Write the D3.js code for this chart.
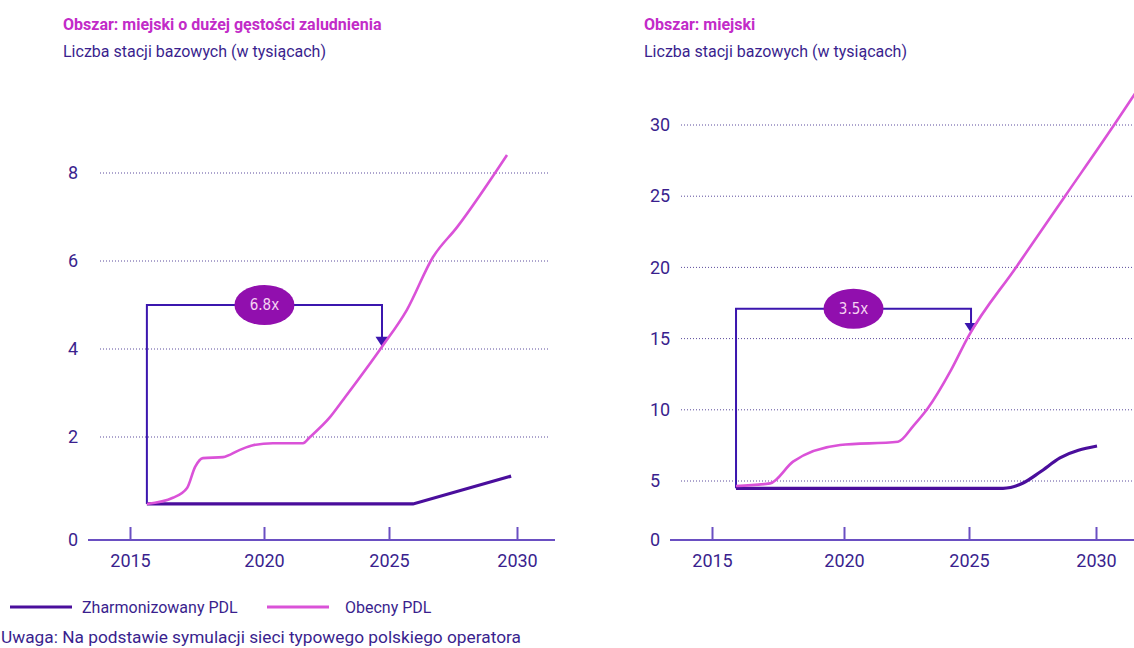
<!DOCTYPE html>
<html lang="pl">
<head>
<meta charset="UTF-8">
<title>Liczba stacji bazowych</title>
<style>
  body { margin: 0; background: #fff; }
  svg { display: block; font-family: Roboto, "Noto Sans", sans-serif; }
</style>
</head>
<body>
<svg id="chart" width="1134" height="648"></svg>
<script src="https://d3js.org/d3.v7.min.js"></script>
<script>

// --- data ---
const xTicks = [2015, 2020, 2025, 2030];
const leftYTicks = [0, 2, 4, 6, 8];
const rightYTicks = [0, 5, 10, 15, 20, 25, 30];

const panelTitles = ["Obszar: miejski o dużej gęstości zaludnienia", "Obszar: miejski"];
const panelSubtitle = "Liczba stacji bazowych (w tysiącach)";

// [year, thousands of base stations]
const leftHarmonized = [[2015.63, 0.70], [2025.94, 0.70], [2029.77, 1.24]];
const leftCurrent = [
  [2015.63, 0.70], [2016.60, 0.82], [2017.13, 1.01], [2017.43, 1.42], [2017.72, 1.59],
  [2018.47, 1.61], [2019.10, 1.75], [2019.59, 1.84], [2020.36, 1.88], [2021.56, 1.88],
  [2021.84, 2.0], [2022.64, 2.45], [2023.16, 2.84], [2024.72, 4.05], [2025.70, 4.89],
  [2026.72, 6.09], [2027.66, 6.77], [2029.61, 8.41]
];
const rightHarmonized = [
  [2015.91, 4.38], [2026.34, 4.38], [2027.13, 4.83], [2027.80, 5.63], [2028.58, 6.62], [2030.04, 7.46]
];
const rightCurrent = [
  [2015.91, 4.58], [2017.20, 4.80], [2018.07, 6.36], [2019.85, 7.53], [2022.16, 7.76],
  [2022.80, 8.93], [2023.36, 10.13], [2024.28, 12.79], [2024.96, 15.11], [2026.85, 20.0],
  [2028.78, 25.0], [2030.71, 30.0], [2031.46, 32.0], [2031.8, 32.9]
];

// growth brackets: label, start year, end year, bracket level, arrow target value
const multipleLabels = ["6.8x", "3.5x"];
const multipleFrom = [2015.63, 2015.91];
const multipleTo = [2024.72, 2025.08];
const multipleLevel = [5.0, 17.1];
const multipleTarget = [4.05, 15.4];

const legendLabels = ["Zharmonizowany PDL", "Obecny PDL"];
const noteText = "Uwaga: Na podstawie symulacji sieci typowego polskiego operatora";

// --- styles ---
const cHarm = "#4a0e9c";
const cCurr = "#da52d8";
const cText = "#3a1f8e";
const cTitle = "#c22bc8";
const cAxis = "#6a4fc2";
const cBracket = "#3b16ae";
const cBadge = "#910fae";

const svg = d3.select("#chart");

const panels = [
  {
    title: panelTitles[0], titleX: 63, labelX: 68, gridX: [100, 550], axisX: [88, 555],
    x: d3.scaleLinear().domain(xTicks).range([130, 264, 389, 517]),
    y: d3.scaleLinear().domain([0, 2, 8]).range([540, 437, 173]),
    yTicks: leftYTicks, harm: leftHarmonized, curr: leftCurrent, harmCurve: d3.curveLinear, i: 0
  },
  {
    title: panelTitles[1], titleX: 644, labelX: 650, gridX: [681, 1140], axisX: [670, 1140],
    x: d3.scaleLinear().domain(xTicks).range([712, 844, 969, 1096]),
    y: d3.scaleLinear().domain([0, 5, 30]).range([540, 481, 125]),
    yTicks: rightYTicks, harm: rightHarmonized, curr: rightCurrent, harmCurve: d3.curveMonotoneX, i: 1
  }
];

panels.forEach(p => {
  const g = svg.append("g");

  g.append("text")
    .attr("x", p.titleX).attr("y", 30)
    .attr("fill", cTitle).attr("font-size", 16).attr("font-weight", 700)
    .text(p.title);
  g.append("text")
    .attr("x", p.titleX).attr("y", 57)
    .attr("fill", cText).attr("font-size", 16)
    .text(panelSubtitle);

  // dotted gridlines (not at 0)
  g.selectAll(".grid")
    .data(p.yTicks.filter(d => d > 0))
    .enter().append("line")
    .attr("x1", p.gridX[0]).attr("x2", p.gridX[1])
    .attr("y1", d => p.y(d)).attr("y2", d => p.y(d))
    .attr("stroke", "#5b4a9c").attr("stroke-width", 1)
    .attr("stroke-dasharray", "1,2");

  // y labels
  const ya = g.append("g")
    .attr("transform", "translate(" + p.labelX + ",0)")
    .call(d3.axisLeft(p.y).tickValues(p.yTicks).tickSize(0).tickPadding(0));
  ya.select(".domain").remove();
  ya.selectAll("text")
    .attr("x", 0).attr("text-anchor", "start")
    .attr("fill", cText).attr("font-size", 18).attr("font-family", "Roboto, sans-serif");

  // x axis
  const xa = g.append("g")
    .attr("transform", "translate(0," + p.y(0) + ")")
    .call(d3.axisBottom(p.x).tickValues(xTicks).tickFormat(d3.format("d"))
      .tickSizeInner(-13).tickSizeOuter(0).tickPadding(14));
  xa.select(".domain").remove();
  xa.selectAll(".tick line").attr("stroke", cAxis).attr("stroke-width", 2);
  xa.selectAll("text")
    .attr("fill", cText).attr("font-size", 18).attr("font-family", "Roboto, sans-serif");
  g.append("line")
    .attr("x1", p.axisX[0]).attr("x2", p.axisX[1])
    .attr("y1", p.y(0)).attr("y2", p.y(0))
    .attr("stroke", cAxis).attr("stroke-width", 2);

  // bracket annotation
  const bx0 = p.x(multipleFrom[p.i]), bx1 = p.x(multipleTo[p.i]);
  const by = p.y(multipleLevel[p.i]), ty = p.y(multipleTarget[p.i]);
  const base = p.y(p.harm[0][1]);
  g.append("path")
    .attr("d", "M" + bx0 + "," + base + "V" + by + "H" + bx1 + "V" + (ty - 9))
    .attr("fill", "none").attr("stroke", cBracket).attr("stroke-width", 2);
  g.append("path")
    .attr("d", "M" + (bx1 - 6.5) + "," + (ty - 10) + "L" + (bx1 + 6.5) + "," + (ty - 10) + "L" + bx1 + "," + ty + "Z")
    .attr("fill", cBracket);

  // series
  const line = c => d3.line().x(d => p.x(d[0])).y(d => p.y(d[1])).curve(c);
  g.append("path")
    .attr("d", line(p.harmCurve)(p.harm))
    .attr("fill", "none").attr("stroke", cHarm).attr("stroke-width", 3.2);
  g.append("path")
    .attr("d", line(d3.curveMonotoneX)(p.curr))
    .attr("fill", "none").attr("stroke", cCurr).attr("stroke-width", 2.6);

  // badge
  const mx = (bx0 + bx1) / 2;
  g.append("ellipse")
    .attr("cx", mx).attr("cy", by).attr("rx", 30).attr("ry", 20)
    .attr("fill", cBadge);
  g.append("text")
    .attr("x", mx).attr("y", by).attr("dy", "0.35em")
    .attr("text-anchor", "middle").attr("fill", "#f5d3f2")
    .attr("font-size", 15).attr("font-family", "'DejaVu Sans Condensed', 'Liberation Sans', sans-serif")
    .text(multipleLabels[p.i]);
});

// legend
const legend = svg.append("g").attr("transform", "translate(0,607)");
const legendColors = [cHarm, cCurr];
const legendX = [10, 267];
legendLabels.forEach((t, i) => {
  legend.append("line")
    .attr("x1", legendX[i]).attr("x2", legendX[i] + 62)
    .attr("stroke", legendColors[i]).attr("stroke-width", 3);
  legend.append("text")
    .attr("x", legendX[i] + (i === 0 ? 72 : 78)).attr("dy", "0.35em")
    .attr("fill", cText).attr("font-size", 16)
    .text(t);
});

svg.append("text")
  .attr("x", 1).attr("y", 643)
  .attr("fill", cText).attr("font-size", 17.3)
  .text(noteText);

</script>
</body>
</html>
